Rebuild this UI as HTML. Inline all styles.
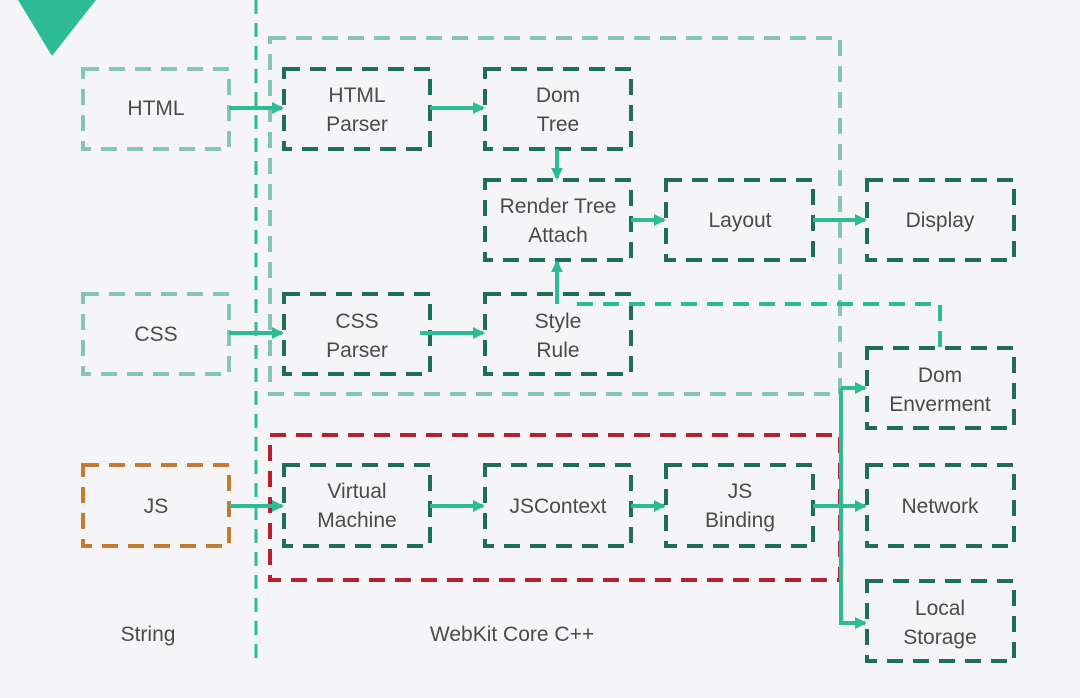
<!DOCTYPE html>
<html><head><meta charset="utf-8"><style>
html,body{margin:0;padding:0;background:#f5f5f7;}
svg{display:block}
text{font-family:"Liberation Sans",sans-serif;font-size:21px;fill:#4a4a4a;text-anchor:middle}
</style></head><body>
<svg width="1080" height="698" viewBox="0 0 1080 698">
<defs>
<marker id="a" markerWidth="12" markerHeight="12" refX="10" refY="6" orient="auto" markerUnits="userSpaceOnUse"><path d="M0,0 L12,6 L0,12 z" fill="#2dbb95"/></marker>
</defs>
<rect width="1080" height="698" fill="#f5f5f7"/>
<polygon points="18,0 96,0 52,56" fill="#2dbb95"/>
<line x1="256" y1="0" x2="256" y2="662" stroke="#2dbb95" stroke-width="3" stroke-dasharray="14,9"/>
<rect x="270" y="38" width="570" height="356" fill="none" stroke="#85c4b6" stroke-width="4" stroke-dasharray="16,10"/>
<rect x="270" y="435" width="570" height="145" fill="none" stroke="#b51f2e" stroke-width="4" stroke-dasharray="16,10"/>
<g fill="none" stroke-width="4" stroke-dasharray="16,10">
<rect x="83" y="69" width="146" height="80" stroke="#85c4b6"/>
<rect x="83" y="294" width="146" height="80" stroke="#85c4b6"/>
<rect x="83" y="465" width="146" height="81" stroke="#c27d32"/>
<g stroke="#1e6f56">
<rect x="284" y="69" width="146" height="80"/>
<rect x="485" y="69" width="146" height="80"/>
<rect x="485" y="180" width="146" height="80"/>
<rect x="666" y="180" width="147" height="80"/>
<rect x="867" y="180" width="147" height="80"/>
<rect x="284" y="294" width="146" height="80"/>
<rect x="485" y="294" width="146" height="80"/>
<rect x="867" y="348" width="147" height="80"/>
<rect x="284" y="465" width="146" height="81"/>
<rect x="485" y="465" width="146" height="81"/>
<rect x="666" y="465" width="147" height="81"/>
<rect x="867" y="465" width="147" height="81"/>
<rect x="867" y="581" width="147" height="80"/>
</g>
</g>
<path d="M577,304 H940 V348" fill="none" stroke="#2dbb95" stroke-width="4" stroke-dasharray="16,10"/>
<g stroke="#2dbb95" stroke-width="4" fill="none" marker-end="url(#a)">
<line x1="229" y1="108" x2="282" y2="108"/>
<line x1="430" y1="108" x2="483" y2="108"/>
<line x1="557" y1="149" x2="557" y2="178"/>
<line x1="631" y1="220" x2="664" y2="220"/>
<line x1="813" y1="220" x2="865" y2="220"/>
<line x1="557" y1="304" x2="557" y2="262"/>
<line x1="229" y1="333" x2="282" y2="333"/>
<line x1="420" y1="333" x2="483" y2="333"/>
<line x1="229" y1="506" x2="282" y2="506"/>
<line x1="430" y1="506" x2="483" y2="506"/>
<line x1="631" y1="506" x2="664" y2="506"/>
<line x1="813" y1="506" x2="865" y2="506"/>
<path d="M841,388 H865"/>
<path d="M841,388 V623 H865"/>
</g>
<text x="156" y="115">HTML</text>
<text x="357" y="102">HTML</text><text x="357" y="131">Parser</text>
<text x="558" y="102">Dom</text><text x="558" y="131">Tree</text>
<text x="558" y="213">Render Tree</text><text x="558" y="242">Attach</text>
<text x="740" y="227">Layout</text>
<text x="940" y="227">Display</text>
<text x="156" y="341">CSS</text>
<text x="357" y="328">CSS</text><text x="357" y="357">Parser</text>
<text x="558" y="328">Style</text><text x="558" y="357">Rule</text>
<text x="940" y="382">Dom</text><text x="940" y="411">Enverment</text>
<text x="156" y="513">JS</text>
<text x="357" y="498">Virtual</text><text x="357" y="527">Machine</text>
<text x="558" y="513">JSContext</text>
<text x="740" y="498">JS</text><text x="740" y="527">Binding</text>
<text x="940" y="513">Network</text>
<text x="940" y="615">Local</text><text x="940" y="644">Storage</text>
<text x="148" y="641">String</text>
<text x="512" y="641">WebKit Core C++</text>
</svg>
</body></html>
